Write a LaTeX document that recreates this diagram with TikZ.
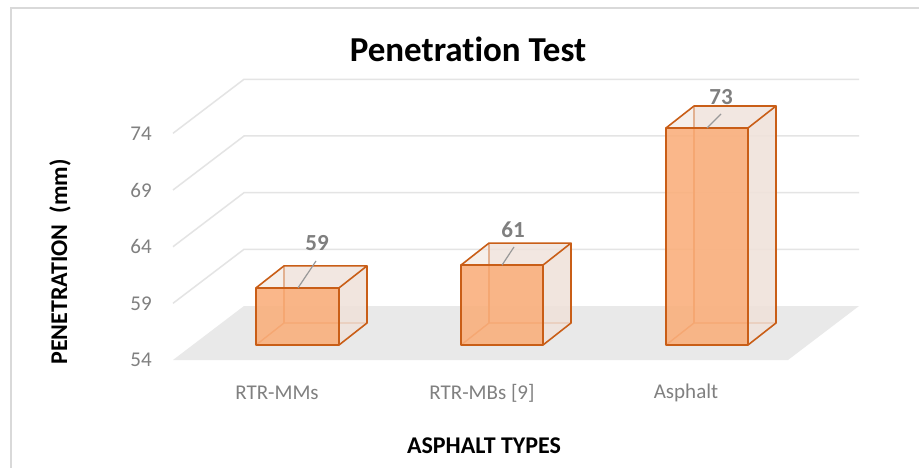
\documentclass[tikz,border=0pt]{standalone}
\usepackage{fontspec}
\setmainfont{Carlito}[Ligatures=NoCommon]
\usetikzlibrary{calc}
\definecolor{gridc}{HTML}{E4E4E4}
\definecolor{floorc}{HTML}{E9E9E9}
\definecolor{framec}{HTML}{D9D9D9}
\definecolor{tickc}{HTML}{808080}
\definecolor{labc}{HTML}{7F7F7F}
\definecolor{edgec}{HTML}{C95E17}
\definecolor{frontc}{HTML}{FAAE7A}
\definecolor{sidec}{HTML}{F0E2DA}
\tikzset{
  gridline/.style={draw=gridc, line width=1.5pt},
  ticklabel/.style={text=tickc, font=\fontsize{21}{24}\selectfont, anchor=center},
  catlabel/.style={text=tickc, font=\fontsize{21}{25}\selectfont, anchor=center},
  axistitle/.style={text=black, font=\bfseries\fontsize{24}{28}\selectfont, anchor=center},
  datalabel/.style={text=labc, font=\bfseries\fontsize{23}{27}\selectfont, anchor=center},
  leader/.style={draw=labc!80, line width=1.2pt},
  baredge/.style={draw=edgec, line width=1.6pt, line join=round},
  hiddenedge/.style={draw=edgec!85!white, line width=1.4pt},
}
% one transparent 3D bar: #1 left x, #2 right x, #3 top y (front), #4 name
\newcommand{\barbox}[4]{%
  \coordinate (#4-fbl) at (#1,345);
  \coordinate (#4-fbr) at (#2,345);
  \coordinate (#4-ftl) at (#1,#3);
  \coordinate (#4-ftr) at (#2,#3);
  \coordinate (#4-bbl) at ($(#4-fbl)+(28,-22)$);
  \coordinate (#4-bbr) at ($(#4-fbr)+(28,-22)$);
  \coordinate (#4-btl) at ($(#4-ftl)+(28,-22)$);
  \coordinate (#4-btr) at ($(#4-ftr)+(28,-22)$);
  % back faces
  \fill[sidec, opacity=0.55] (#4-bbl) -- (#4-bbr) -- (#4-btr) -- (#4-btl) -- cycle;
  % hidden edges
  \draw[hiddenedge] (#4-fbl) -- (#4-bbl) -- (#4-bbr);
  \draw[hiddenedge] (#4-bbl) -- (#4-btl);
  % side and top faces
  \fill[sidec, opacity=0.75] (#4-fbr) -- (#4-bbr) -- (#4-btr) -- (#4-ftr) -- cycle;
  \fill[sidec, opacity=0.55] (#4-ftl) -- (#4-ftr) -- (#4-btr) -- (#4-btl) -- cycle;
  % front face
  \fill[frontc, opacity=0.88] (#4-fbl) -- (#4-fbr) -- (#4-ftr) -- (#4-ftl) -- cycle;
  % visible edges
  \draw[baredge] (#4-fbl) -- (#4-fbr) -- (#4-ftr) -- (#4-ftl) -- cycle;
  \draw[baredge] (#4-ftl) -- (#4-btl) -- (#4-btr) -- (#4-ftr);
  \draw[baredge] (#4-btr) -- (#4-bbr) -- (#4-fbr);
}
\begin{document}
\begin{tikzpicture}[x=1pt, y=-1pt]
  \useasboundingbox (0,0) rectangle (919,468);
  \fill[white] (0,0) rectangle (919,468);
  % chart frame
  \draw[framec, line width=2pt] (10.5,470) -- (10.5,8.5) -- (921,8.5);

  % title
  \node[font=\bfseries\fontsize{35}{40}\selectfont] (title) at (468,49) {Penetration Test};

  % gridlines: front ticks at 54..74, wall offset (71,-54)
  \foreach \yf/\v in {303.3/59, 246.7/64, 190/69, 133.3/74}{
    \draw[gridline] (173,\yf) -- (244,\yf-54) -- (859,\yf-54);
  }
  % floor
  \fill[floorc] (173,360) -- (244,306) -- (859,306) -- (788,360) -- cycle;

  % value axis labels
  \foreach \yf/\v in {360/54, 303.3/59, 246.7/64, 190/69, 133.3/74}{
    \node[ticklabel] (tick\v) at (141,\yf) {\v};
  }

  % bars
  \barbox{256}{339}{287.9}{b1}
  \barbox{461}{543}{265.1}{b2}
  \barbox{666}{748}{128}{b3}

  % data labels with leader lines
  \node[datalabel] (l1) at (317,243) {59};
  \node[datalabel] (l2) at (513,230) {61};
  \node[datalabel] (l3) at (721,97) {73};
  \coordinate (p1) at (298,287.9);
  \coordinate (p2) at (502,265.1);
  \coordinate (p3) at (707,128);
  \draw[leader] (316,261) -- (p1);
  \draw[leader] (514,247) -- (p2);
  \draw[leader] (721,114) -- (p3);

  % category labels
  \node[catlabel] (c1) at (277,393) {RTR-MMs};
  \node[catlabel] (c2) at (482,393) {RTR-MBs [9]};
  \node[catlabel] (c3) at (686,393) {Asphalt};

  % axis titles
  \node[axistitle] (xt) at (484,446) {ASPHALT TYPES};
  \node[axistitle, rotate=90] (yt) at (60,262) {PENETRATION\ \ (mm)};
\end{tikzpicture}
\end{document}
